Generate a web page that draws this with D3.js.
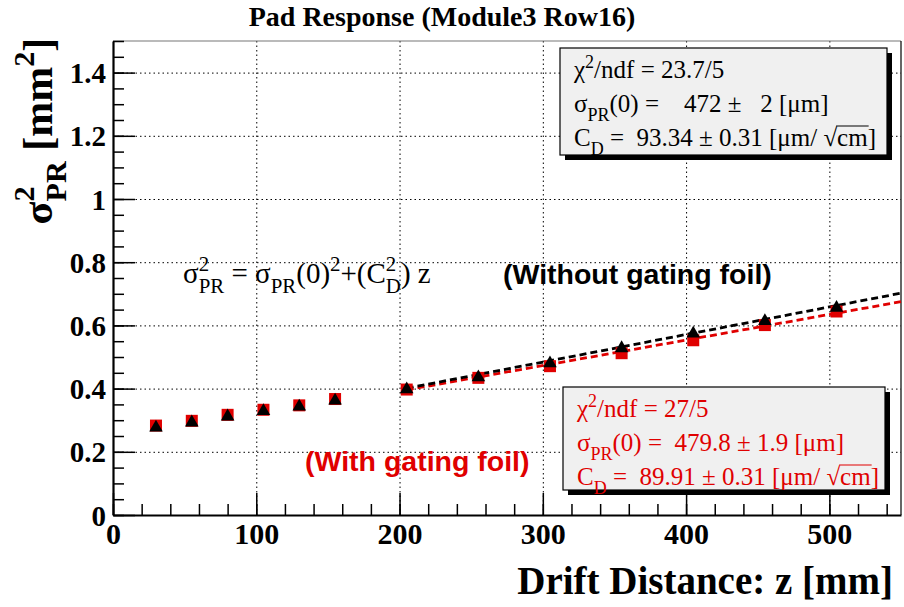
<!DOCTYPE html>
<html>
<head>
<meta charset="utf-8">
<script src="https://cdn.jsdelivr.net/npm/d3@7"></script>
<style>
  body { margin: 0; background: #fff; }
  text { white-space: pre; }
</style>
</head>
<body>
<div id="chart"></div>
<script>
// drift distance of each measurement [mm]
const zValues = [30, 55, 80, 105, 130, 155, 205, 255, 305, 355, 405, 455, 505];
// sigma_PR^2 [mm^2], without gating foil (black triangles)
const sigmaWithout = [0.280, 0.296, 0.315, 0.332, 0.346, 0.365, 0.401, 0.439, 0.483, 0.531, 0.577, 0.617, 0.659];
// sigma_PR^2 [mm^2], with gating foil (red squares)
const sigmaWith = [0.283, 0.298, 0.317, 0.333, 0.347, 0.367, 0.397, 0.434, 0.471, 0.512, 0.553, 0.601, 0.644];
// fit line end points [z, sigma^2]
const fitWithout = [[205, 0.401], [550, 0.702]];
const fitWith = [[205, 0.396], [550, 0.675]];
// axis ticks
const xTicks = [0, 100, 200, 300, 400, 500];
const xMinorTicks = d3.range(0, 551, 20);
const yTicks = [0, 0.2, 0.4, 0.6, 0.8, 1, 1.2, 1.4];
const yMinorTicks = d3.range(0, 31).map(i => i * 0.05);
// fit result boxes
const statsWithout = ["23.7/5", "   472 \u00b1   2", " 93.34 \u00b1 0.31"];
const statsWith = ["27/5", " 479.8 \u00b1 1.9", " 89.91 \u00b1 0.31"];

const width = 904;
const height = 607;
const red = "#e00000";
const serif = "'Liberation Serif', 'Times New Roman', serif";
const sans = "'Liberation Sans', Arial, sans-serif";

const vis = d3.select("#chart").append("svg")
    .attr("width", width)
    .attr("height", height);

const xScale = d3.scaleLinear().domain([0, 550]).range([113, 901]);
const yScale = d3.scaleLinear().domain([0, 1.5]).range([515, 41]);

// text with sub/superscripts: parts are [text, kind], kind "", "sup", "sub", "over"; [[sup, sub]] is stacked
function rich(t, parts, size) {
  let cur = 0;
  const small = size * 0.72;
  parts.forEach(function (p) {
    const txt = p[0], kind = p[1] || "";
    if (Array.isArray(txt)) {
      const sup = t.append("tspan").attr("dy", -0.42 * size - cur).attr("font-size", small).text(txt[0]);
      const len = sup.node().getComputedTextLength();
      t.append("tspan").attr("dx", -len).attr("dy", 0.76 * size).attr("font-size", small).text(txt[1]);
      cur = 0.34 * size;
      return;
    }
    const off = kind === "sup" ? -0.42 * size : kind === "sub" ? 0.34 * size : 0;
    const ts = t.append("tspan").attr("dy", off - cur)
        .attr("font-size", (kind === "sup" || kind === "sub") ? small : size).text(txt);
    if (kind === "over") {
      // bar of the square root over the tspan
      const start = ts.node().getStartPositionOfChar(0);
      const len = ts.node().getComputedTextLength();
      vis.append("line")
          .attr("x1", start.x - 1).attr("x2", start.x + len + 1)
          .attr("y1", start.y - 0.8 * size).attr("y2", start.y - 0.8 * size)
          .attr("stroke", t.attr("fill") || "#000").attr("stroke-width", 1.2);
    }
    cur = off;
  });
}

// grid lines
vis.append("g")
    .attr("transform", "translate(0," + yScale(0) + ")")
    .call(d3.axisBottom(xScale).tickValues(xTicks.slice(1)).tickSize(-(yScale(0) - yScale(1.5))).tickFormat(""))
    .call(g => g.select(".domain").remove())
    .selectAll("line").attr("stroke", "#000").attr("stroke-dasharray", "1.5,3");

vis.append("g")
    .attr("transform", "translate(" + xScale(0) + ",0)")
    .call(d3.axisLeft(yScale).tickValues(yTicks.slice(1)).tickSize(-(xScale(550) - xScale(0))).tickFormat(""))
    .call(g => g.select(".domain").remove())
    .selectAll("line").attr("stroke", "#000").attr("stroke-dasharray", "1.5,3");

// frame
vis.append("line").attr("x1", xScale(0)).attr("x2", xScale(550)).attr("y1", yScale(1.5)).attr("y2", yScale(1.5))
    .attr("stroke", "#777").attr("stroke-width", 1.2);
vis.append("line").attr("x1", xScale(550)).attr("x2", xScale(550)).attr("y1", yScale(1.5)).attr("y2", yScale(0))
    .attr("stroke", "#000").attr("stroke-width", 1.2);

// minor ticks
vis.append("g")
    .attr("transform", "translate(0," + yScale(0) + ")")
    .call(d3.axisBottom(xScale).tickValues(xMinorTicks).tickSize(-11).tickSizeOuter(0).tickFormat(""))
    .call(g => g.select(".domain").remove())
    .selectAll("line").attr("stroke-width", 1.5);

vis.append("g")
    .attr("transform", "translate(" + xScale(0) + ",0)")
    .call(d3.axisLeft(yScale).tickValues(yMinorTicks).tickSize(-11).tickSizeOuter(0).tickFormat(""))
    .call(g => g.select(".domain").remove())
    .selectAll("line").attr("stroke-width", 1.5);

// x axis
vis.append("g")
    .attr("transform", "translate(0," + yScale(0) + ")")
    .call(d3.axisBottom(xScale).tickValues(xTicks).tickSize(-22).tickSizeOuter(0).tickPadding(6))
    .call(g => g.select(".domain").attr("stroke-width", 2.2))
    .call(g => g.selectAll("line").attr("stroke-width", 1.5))
    .call(g => g.selectAll("text")
        .attr("font-family", serif).attr("font-weight", "bold").attr("font-size", 30)
        .attr("fill", "#000").attr("dy", "0.78em"));

// y axis
vis.append("g")
    .attr("transform", "translate(" + xScale(0) + ",0)")
    .call(d3.axisLeft(yScale).tickValues(yTicks).tickSize(-22).tickSizeOuter(0).tickPadding(7).tickFormat(d3.format("~g")))
    .call(g => g.select(".domain").attr("stroke-width", 2.2))
    .call(g => g.selectAll("line").attr("stroke-width", 1.5))
    .call(g => g.selectAll("text")
        .attr("font-family", serif).attr("font-weight", "bold").attr("font-size", 29)
        .attr("fill", "#000").attr("dy", "0.35em"));

// title
vis.append("text")
    .attr("x", 442)
    .attr("y", 26)
    .attr("text-anchor", "middle")
    .attr("font-family", serif)
    .attr("font-weight", "bold")
    .attr("font-size", 28)
    .text("Pad Response (Module3 Row16)");

// x axis title
vis.append("text")
    .attr("x", 893)
    .attr("y", 594)
    .attr("text-anchor", "end")
    .attr("font-family", serif)
    .attr("font-weight", "bold")
    .attr("font-size", 39)
    .text("Drift Distance: z [mm]");

// y axis title
const yTitle = vis.append("text")
    .attr("transform", "translate(52,131) rotate(-90)")
    .attr("text-anchor", "middle")
    .attr("font-family", serif)
    .attr("font-weight", "bold")
    .attr("font-size", 42);
rich(yTitle, [["\u03c3"], [["2", "PR"]], [" [mm"], ["2", "sup"], ["]"]], 42);

// fit lines
const line = d3.line().x(d => xScale(d[0])).y(d => yScale(d[1]));
vis.append("path").datum(fitWith).attr("d", line)
    .attr("fill", "none").attr("stroke", red).attr("stroke-width", 2.8).attr("stroke-dasharray", "7,4");
vis.append("path").datum(fitWithout).attr("d", line)
    .attr("fill", "none").attr("stroke", "#000").attr("stroke-width", 2.8).attr("stroke-dasharray", "7,4");

// red squares (with gating foil)
vis.selectAll(".with-point")
    .data(zValues)
    .enter().append("rect")
    .attr("x", (d, i) => xScale(d) - 6)
    .attr("y", (d, i) => yScale(sigmaWith[i]) - 6)
    .attr("width", 12)
    .attr("height", 12)
    .attr("fill", red);

// black triangles (without gating foil)
const tri = d3.symbol().type(d3.symbolTriangle).size(80);
vis.selectAll(".without-point")
    .data(zValues)
    .enter().append("path")
    .attr("d", tri)
    .attr("transform", (d, i) => "translate(" + xScale(d) + "," + (yScale(sigmaWithout[i]) + 1) + ")")
    .attr("fill", "#000");

// formula
const formula = vis.append("text")
    .attr("x", 183)
    .attr("y", 283)
    .attr("font-family", serif)
    .attr("font-size", 29);
rich(formula, [["\u03c3"], [["2", "PR"]], [" = \u03c3"], ["PR", "sub"], ["(0)"], ["2", "sup"], ["+(C"], [["2", "D"]], [") z"]], 29);

// labels
vis.append("text")
    .attr("x", 503)
    .attr("y", 284)
    .attr("font-family", sans)
    .attr("font-weight", "bold")
    .attr("font-size", 28.5)
    .text("(Without gating foil)");

vis.append("text")
    .attr("x", 305)
    .attr("y", 471)
    .attr("font-family", sans)
    .attr("font-weight", "bold")
    .attr("font-size", 28.5)
    .attr("fill", red)
    .text("(With gating foil)");

// stat boxes
function statBox(x0, y0, w, h, stats, color) {
  vis.append("rect").attr("x", x0 + 5).attr("y", y0 + 5).attr("width", w).attr("height", h).attr("fill", "#000");
  vis.append("rect").attr("x", x0).attr("y", y0).attr("width", w).attr("height", h)
      .attr("fill", "#f0f0f0").attr("stroke", "#000").attr("stroke-width", 1.2);
  const size = 25;
  const lines = [
    [["\u03c7"], ["2", "sup"], ["/ndf = " + stats[0]]],
    [["\u03c3"], ["PR", "sub"], ["(0) = " + stats[1] + " [\u03bcm]"]],
    [["C"], ["D", "sub"], [" = " + stats[2] + " [\u03bcm/ \u221a"], ["cm", "over"], ["]"]]
  ];
  lines.forEach(function (parts, i) {
    const t = vis.append("text")
        .attr("x", x0 + 14)
        .attr("y", y0 + 30 + i * 34)
        .attr("font-family", serif)
        .attr("font-size", size)
        .attr("fill", color);
    rich(t, parts, size);
  });
}

statBox(560, 48, 327, 107, statsWithout, "#000");
statBox(563, 387, 322, 103, statsWith, red);
</script>
</body>
</html>
